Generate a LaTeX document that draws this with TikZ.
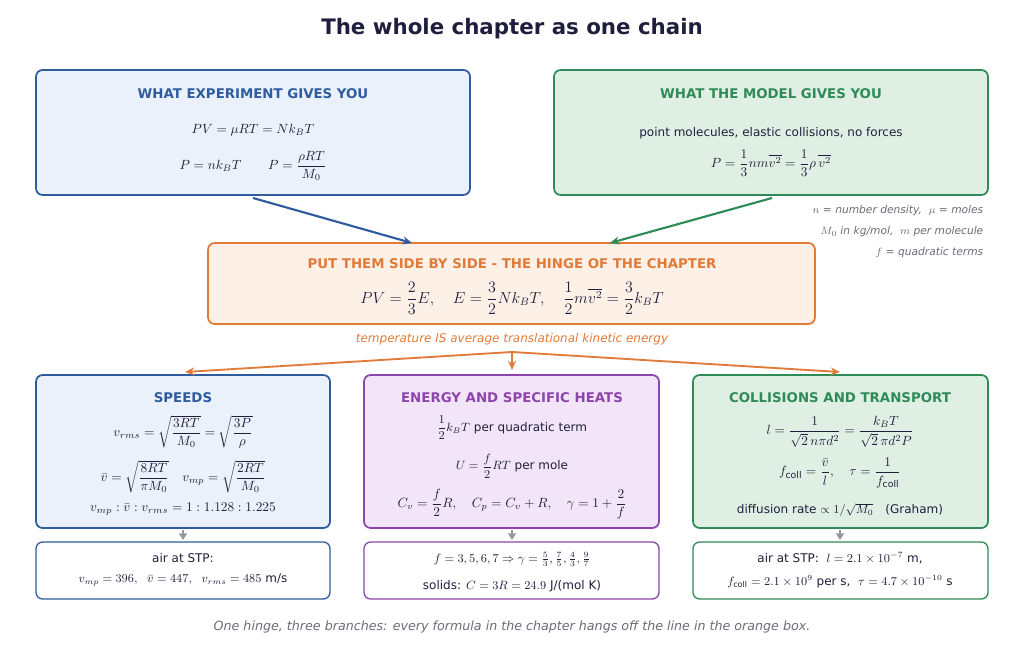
\documentclass[tikz,border=0pt]{standalone}
\usepackage{amsmath}
\usepackage{fontspec}
\setmainfont{DejaVu Sans}
\usetikzlibrary{arrows.meta}
\definecolor{ink}{HTML}{1F1F3D}
\definecolor{cblue}{HTML}{2F5C9E}
\definecolor{fblue}{HTML}{EBF1FA}
\definecolor{cgreen}{HTML}{2E8B57}
\definecolor{fgreen}{HTML}{E0EFE3}
\definecolor{corange}{HTML}{E07B39}
\definecolor{forange}{HTML}{FDF0E6}
\definecolor{cpurple}{HTML}{8E44AD}
\definecolor{fpurple}{HTML}{F3E5F8}
\definecolor{cgray}{HTML}{6B6B78}
\tikzset{
  box/.style={draw=#1, line width=1.3pt, rounded corners=5pt},
  head/.style={font=\bfseries\fontsize{10}{12}\selectfont, text=#1},
  txt/.style={font=\small, text=ink},
  eq/.style={font=\normalsize, text=ink},
  note/.style={font=\itshape\footnotesize, text=cgray, anchor=east},
  link/.style={-{Stealth[length=7pt,width=6pt]}, line width=1.6pt, draw=#1},
  down/.style={-{Triangle[length=5pt,width=6pt]}, line width=1.4pt, draw=cgray!70}
}
\begin{document}
\begin{tikzpicture}[x=0.75pt,y=-0.75pt]
\useasboundingbox (0,0) rectangle (1024,652);
\node[font=\bfseries\fontsize{16}{18}\selectfont, text=ink] (title) at (512,29) {The whole chapter as one chain};

% top boxes
\draw[box=cblue, fill=fblue] (36,70) rectangle (470,195);
\node[head=cblue] (exph) at (253,94) {WHAT EXPERIMENT GIVES YOU};
\node[eq] (exp1) at (253,130) {$PV=\mu RT=Nk_BT$};
\node[eq] (exp2) at (253,166) {$P=nk_BT \qquad P=\dfrac{\rho RT}{M_0}$};
\coordinate (expout) at (253,198);

\draw[box=cgreen, fill=fgreen] (554,70) rectangle (988,195);
\node[head=cgreen] (modh) at (771,94) {WHAT THE MODEL GIVES YOU};
\node[txt] (mod1) at (771,133) {point molecules, elastic collisions, no forces};
\node[eq] (mod2) at (771,163) {$P=\dfrac{1}{3}nm\overline{v^2}=\dfrac{1}{3}\rho\,\overline{v^2}$};
\coordinate (modout) at (772,198);

\node[note] (n1) at (988,211) {$n$ = number density,\ \ $\mu$ = moles};
\node[note] (n2) at (988,232) {$M_0$ in kg/mol,\ \ $m$ per molecule};
\node[note] (n3) at (988,253) {$f$ = quadratic terms};

% hinge
\draw[box=corange, fill=forange] (208,243) rectangle (815,324);
\node[head=corange] (hingeh) at (512,264) {PUT THEM SIDE BY SIDE - THE HINGE OF THE CHAPTER};
\node[font=\large, text=ink] (hinge) at (512,298) {$PV=\dfrac{2}{3}E,\quad E=\dfrac{3}{2}Nk_BT,\quad \dfrac{1}{2}m\overline{v^2}=\dfrac{3}{2}k_BT$};
\coordinate (inl) at (412,243);
\coordinate (inr) at (610,243);
\draw[link=cblue] (expout) -- (inl);
\draw[link=cgreen] (modout) -- (inr);
\node[font=\itshape\small, text=corange] (cap) at (512,339) {temperature IS average translational kinetic energy};
\coordinate (fork) at (512,352);

% branches
\draw[box=cblue, fill=fblue] (36,375) rectangle (330,528);
\node[head=cblue] (sph) at (183,398) {SPEEDS};
\node[eq] (sp1) at (183,432) {$v_{rms}=\sqrt{\dfrac{3RT}{M_0}}=\sqrt{\dfrac{3P}{\rho}}$};
\node[eq] (sp2) at (183,477) {$\bar v=\sqrt{\dfrac{8RT}{\pi M_0}}\quad v_{mp}=\sqrt{\dfrac{2RT}{M_0}}$};
\node[eq] (sp3) at (183,509) {$v_{mp}:\bar v:v_{rms}=1:1.128:1.225$};

\draw[box=cpurple, fill=fpurple] (364,375) rectangle (659,528);
\node[head=cpurple] (enh) at (512,398) {ENERGY AND SPECIFIC HEATS};
\node[txt] (en1) at (512,428) {$\dfrac{1}{2}k_BT$ per quadratic term};
\node[txt] (en2) at (512,466) {$U=\dfrac{f}{2}RT$ per mole};
\node[eq] (en3) at (512,504) {$C_v=\dfrac{f}{2}R,\quad C_p=C_v+R,\quad \gamma=1+\dfrac{2}{f}$};

\draw[box=cgreen, fill=fgreen] (693,375) rectangle (988,528);
\node[head=cgreen] (coh) at (840,398) {COLLISIONS AND TRANSPORT};
\node[eq] (co1) at (840,432) {$l=\dfrac{1}{\sqrt{2}\,n\pi d^2}=\dfrac{k_BT}{\sqrt{2}\,\pi d^2P}$};
\node[eq] (co2) at (840,473) {$f_{\mathrm{coll}}=\dfrac{\bar v}{l},\quad \tau=\dfrac{1}{f_{\mathrm{coll}}}$};
\node[txt] (co3) at (840,510) {diffusion rate $\propto 1/\sqrt{M_0}$\quad(Graham)};

\coordinate (tl) at (185,372);
\coordinate (tm) at (512,370);
\coordinate (tr) at (840,372);
\foreach \t in {tl,tm,tr}
  \draw[link=corange, line width=1.4pt] (fork) -- (\t);

% results
\draw[box=cblue, fill=white, line width=1pt] (36,542) rectangle (330,599);
\node[txt] (r1a) at (183,558) {air at STP:};
\node[txt] (r1b) at (183,580) {$v_{mp}=396,\ \ \bar v=447,\ \ v_{rms}=485$ m/s};
\draw[box=cpurple, fill=white, line width=1pt] (364,542) rectangle (659,599);
\node[txt] (r2a) at (512,559) {$f=3,5,6,7\Rightarrow\gamma=\frac{5}{3},\frac{7}{5},\frac{4}{3},\frac{9}{7}$};
\node[txt] (r2b) at (512,586) {solids: $C=3R=24.9$ J/(mol K)};
\draw[box=cgreen, fill=white, line width=1pt] (693,542) rectangle (988,599);
\node[txt] (r3a) at (840,558) {air at STP:\ \ $l=2.1\times10^{-7}$ m,};
\node[txt] (r3b) at (840,582) {$f_{\mathrm{coll}}=2.1\times10^{9}$ per s,\ \ $\tau=4.7\times10^{-10}$ s};
\foreach \x in {183,512,840}
  \draw[down] (\x,530) -- (\x,540);

\node[font=\itshape\fontsize{9.5}{11}\selectfont, text=cgray] (foot) at (512,627) {One hinge, three branches: every formula in the chapter hangs off the line in the orange box.};
\end{tikzpicture}
\end{document}
